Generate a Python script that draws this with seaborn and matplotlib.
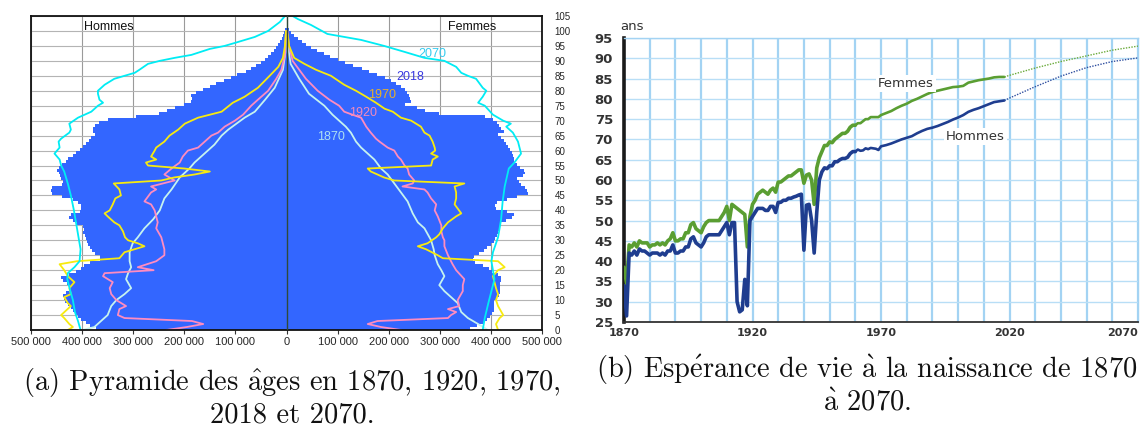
import matplotlib
matplotlib.use("Agg")
import matplotlib.pyplot as plt
import seaborn as sns
import pandas as pd

# ---------- (a) pyramide des ages, effectifs en milliers ----------
ages = list(range(101))
men_2018 = [372, 385, 393, 402, 408, 414, 418, 422, 428, 433,
            436, 438, 431, 423, 424, 430, 438, 441, 425, 412,
            403, 396, 385, 365, 364, 374, 381, 385, 388, 390,
            392, 395, 398, 396, 398, 410, 418, 425, 422, 405,
            402, 402, 408, 418, 440, 458, 461, 458, 440, 438,
            441, 443, 446, 449, 446, 440, 432, 427, 418, 411,
            404, 399, 393, 387, 383, 374, 378, 378, 374, 367,
            350, 295, 250, 234, 218, 201, 187, 185, 186, 177,
            163, 149, 137, 122, 109, 96, 80, 70, 60, 50,
            42, 36, 30, 25, 20, 16, 12, 9, 6, 4,
            2]
women_2018 = [360, 372, 386, 392, 398, 402, 406, 407, 407, 407,
              412, 416, 417, 417, 417, 418, 420, 420, 414, 402,
              396, 384, 368, 364, 366, 377, 387, 393, 400, 406,
              409, 412, 414, 415, 417, 420, 430, 441, 446, 432,
              410, 408, 412, 432, 452, 472, 471, 466, 458, 455,
              452, 462, 466, 464, 457, 451, 446, 445, 443, 441,
              438, 433, 429, 426, 420, 413, 425, 419, 416, 412,
              404, 388, 299, 272, 255, 232, 243, 242, 240, 236,
              231, 224, 214, 205, 192, 178, 162, 147, 130, 115,
              100, 86, 73, 60, 48, 38, 30, 22, 15, 9,
              5]

m1870_ages = [0, 1, 3, 5, 8, 10, 12, 14, 17, 19, 21, 23, 26, 29, 31, 34, 37, 40, 44, 47,
              51, 54, 56, 58, 60, 62, 65, 67, 69, 71, 73, 77, 81, 87, 93, 100]
m1870 = [399, 376, 363, 350, 343, 333, 317, 304, 314, 310, 304, 307, 307, 301, 291, 278, 261, 248, 239, 225,
         209, 190, 180, 167, 154, 141, 127, 114, 98, 82, 62, 42, 23, 7, 2, 1]
w1870_ages = [0, 2, 4, 6, 9, 11, 13, 15, 18, 20, 22, 25, 27, 30, 34, 36, 39, 43, 46, 49,
              52, 54, 57, 59, 61, 63, 66, 68, 70, 72, 75, 79, 84, 89, 95, 100]
w1870 = [394, 375, 355, 342, 335, 322, 309, 299, 309, 303, 296, 290, 288, 283, 270, 257, 247, 237, 224, 211,
         198, 185, 172, 159, 146, 136, 126, 116, 103, 90, 74, 44, 25, 8, 3, 1]

m1920_ages = [0, 1, 2, 3, 4, 5, 7, 8, 10, 12, 14, 16, 18, 19, 20, 21, 23, 25, 27, 29,
              31, 34, 36, 38, 40, 42, 43, 46, 47, 48, 50, 52, 54, 56, 58, 60, 61, 63, 65, 66,
              68, 70, 72, 75, 77, 80, 84, 87, 92, 100]
m1920 = [235, 195, 163, 185, 317, 330, 327, 314, 333, 343, 346, 340, 359, 356, 260, 291, 255, 239, 239, 242,
         245, 255, 252, 255, 258, 265, 278, 265, 255, 265, 219, 239, 225, 209, 203, 193, 173, 160, 147, 134,
         121, 101, 85, 69, 56, 36, 20, 10, 3, 1]
w1920_ages = [0, 1, 2, 3, 4, 5, 6, 7, 8, 10, 13, 15, 17, 20, 22, 24, 25, 28, 30, 31,
              33, 35, 38, 40, 42, 44, 46, 47, 48, 49, 50, 52, 54, 55, 57, 58, 60, 61, 63, 64,
              66, 68, 71, 72, 73, 75, 77, 80, 84, 87, 90, 95, 100]
w1920 = [224, 185, 159, 178, 316, 322, 332, 316, 338, 335, 345, 345, 348, 332, 325, 319, 316, 309, 309, 306,
         303, 303, 296, 290, 293, 283, 276, 270, 227, 247, 250, 240, 237, 231, 224, 218, 211, 198, 182, 175,
         165, 156, 146, 129, 113, 103, 84, 61, 38, 25, 12, 5, 2]

m1970_ages = [0, 1, 2, 4, 5, 8, 9, 11, 12, 14, 16, 18, 20, 22, 23, 24, 26, 28, 29, 30,
              31, 33, 35, 36, 38, 39, 40, 42, 44, 45, 47, 49, 50, 51, 52, 53, 54, 55, 56, 57,
              58, 60, 61, 63, 65, 67, 69, 71, 72, 73, 76, 78, 81, 85, 88, 91, 95, 100]
m1970 = [428, 418, 425, 435, 441, 422, 428, 435, 422, 425, 415, 428, 435, 444, 410, 327, 317, 278, 291, 310,
         316, 320, 327, 337, 350, 356, 346, 340, 335, 324, 327, 338, 245, 220, 180, 150, 200, 271, 275, 255,
         265, 258, 255, 239, 229, 212, 199, 173, 150, 127, 105, 82, 56, 33, 16, 7, 3, 1]
w1970_ages = [0, 2, 4, 5, 8, 10, 12, 14, 16, 18, 20, 21, 23, 24, 25, 27, 28, 29, 31, 32,
              34, 36, 38, 39, 42, 44, 46, 48, 49, 50, 51, 53, 54, 55, 57, 58, 59, 60, 61, 63,
              65, 66, 68, 70, 71, 73, 74, 76, 78, 80, 82, 85, 87, 89, 91, 95, 99]
w1970 = [414, 410, 417, 424, 414, 410, 414, 410, 407, 404, 414, 427, 414, 306, 296, 273, 257, 276, 293, 299,
         306, 316, 332, 342, 329, 332, 332, 329, 348, 211, 191, 165, 159, 283, 286, 296, 283, 291, 290, 286,
         280, 270, 263, 244, 224, 208, 192, 175, 156, 136, 113, 87, 58, 35, 15, 5, 2]

m2070_ages = [0, 3, 6, 10, 13, 17, 19, 21, 23, 27, 31, 36, 40, 45, 49, 53, 55, 57, 59, 61,
              63, 64, 66, 67, 69, 71, 72, 73, 75, 76, 77, 79, 80, 82, 84, 85, 86, 87, 89, 90,
              91, 92, 94, 95, 96, 98, 100, 103, 105]
m2070 = [403, 408, 414, 418, 423, 429, 428, 415, 405, 403, 407, 412, 416, 422, 428, 435, 441, 444, 454, 444,
         446, 441, 425, 422, 425, 408, 395, 382, 369, 359, 366, 369, 369, 356, 337, 317, 297, 288, 271, 248,
         219, 186, 150, 121, 101, 62, 36, 13, 3]
w2070_ages = [0, 4, 9, 13, 17, 20, 23, 26, 31, 37, 43, 48, 54, 56, 59, 61, 63, 66, 68, 69,
              70, 72, 75, 76, 78, 80, 81, 84, 85, 86, 88, 90, 91, 93, 95, 97, 98, 99, 102, 104, 105]
w2070 = [384, 388, 395, 401, 407, 404, 401, 404, 414, 420, 423, 427, 435, 446, 459, 456, 453, 443, 430, 439,
         424, 404, 388, 375, 384, 391, 384, 371, 355, 342, 332, 309, 270, 231, 191, 146, 113, 80, 48, 22, 12]

year_labels = ["2070", "2018", "1970", "1920", "1870"]
label_pos = [(285, 92.3), (242, 84.6), (187, 78.6), (150, 72.6), (87, 64.5)]

# ---------- (b) esperance de vie a la naissance ----------
hist_years = list(range(1870, 1970)) + list(range(1970, 2019, 2))
women_le = [38.5, 34.5, 44, 43.5, 44.5, 43.5, 45, 44.5, 44.5, 44.5,
            43.5, 44, 44, 44.5, 44, 44.5, 44, 45, 45.5, 47,
            45, 45, 45.5, 45.5, 47, 47, 49, 49.5, 48, 47.5,
            47, 48.5, 49.5, 50, 50, 50, 50, 50, 51, 52,
            53.5, 50, 54, 53.5, 53, 52.5, 52, 51.5, 43.5, 51,
            54, 55, 56.5, 57, 57.5, 57, 56.5, 57.5, 58, 57,
            59.5, 59.5, 60, 60.5, 61, 61, 61.5, 62, 62.5, 62.5,
            59.2, 61.2, 61.5, 60, 54, 63, 65.5, 67, 68.5, 68.5,
            69.4, 69.2, 70, 70.5, 71, 71.5, 71.5, 72, 73, 73.5,
            73.5, 74, 74, 74.5, 75, 75, 75.5, 75.5, 75.5, 75.5,
            76, 76.5, 77, 77.7, 78.3, 78.8, 79.5, 80, 80.6, 81.2,
            81.7, 82, 82.3, 82.6, 82.9, 83, 83.2, 84, 84.3, 84.6,
            84.8, 85, 85.3, 85.4, 85.4]
men_le = [34, 26.5, 42, 41.5, 42.5, 41.5, 43, 42.5, 42.5, 42,
          41.5, 42, 42, 42, 41.5, 42, 41.5, 42.5, 42.5, 44,
          42, 42, 42.5, 42.5, 43.5, 43.5, 45.5, 46, 44.5, 44,
          43.5, 44.5, 46, 46.5, 46.5, 46.5, 46.5, 46.5, 47.5, 48.5,
          49.5, 46.5, 49.5, 49.5, 30, 27.5, 28, 35.5, 29, 50,
          51, 52, 53, 53, 53, 52.5, 52.5, 53.5, 53.5, 52,
          54.5, 54.5, 55, 55, 55.5, 55.5, 55.8, 56, 56.3, 56.5,
          42.7, 53.8, 54, 50, 42, 52, 60, 62, 63, 62.8,
          63.5, 63.5, 64.5, 64.5, 65, 65.3, 65.3, 65.6, 66.5, 67,
          67, 67.5, 67.2, 67.3, 67.8, 67.6, 67.9, 67.8, 67.7, 67.4,
          68.3, 68.6, 69, 69.5, 70, 70.4, 70.8, 71.5, 72.1, 72.6,
          72.9, 73.3, 73.8, 74.3, 74.9, 75.4, 76, 76.8, 77.3, 77.7,
          78.2, 78.7, 79.2, 79.4, 79.6]
proj_years = [2018, 2020, 2030, 2040, 2050, 2060, 2070]
women_proj = [85.4, 85.8, 87.6, 89.2, 90.6, 92.0, 93.0]
men_proj = [79.6, 80.2, 83.0, 85.6, 87.7, 89.2, 90.1]

BLUE = "#3366ff"
line_colors = {"1870": "#c6f3ef", "1920": "#ff8cc0", "1970": "#f7ea0f", "2070": "#00ecf4"}
label_colors = ["#33ccf0", "#3a3ae0", "#e6b02a", "#f28abb", "#aee0f2"]
GREEN = "#5a9e32"
NAVY = "#1f3d8f"
GRID_V = "#a3d3f3"
GRID_H = "#b8def6"


def pyramid_lines():
    series = [("1870", m1870_ages, m1870, w1870_ages, w1870),
              ("1920", m1920_ages, m1920, w1920_ages, w1920),
              ("1970", m1970_ages, m1970, w1970_ages, w1970),
              ("2070", m2070_ages, m2070, w2070_ages, w2070)]
    rows = []
    for year, ma, mv, wa, wv in series:
        assert len(ma) == len(mv) and len(wa) == len(wv), year
        rows += [(year, "H", a, -v) for a, v in zip(ma, mv)]
        rows += [(year, "F", a, v) for a, v in zip(wa, wv)]
    return pd.DataFrame(rows, columns=["year", "sexe", "age", "pop"])


def thousands(v):
    return "0" if v == 0 else f"{abs(v) * 1000:,}".replace(",", " ")


sns.set_theme(style="white")
plt.rcParams["font.family"] = ["Liberation Sans", "DejaVu Sans"]
plt.rcParams["mathtext.fontset"] = "cm"

fig = plt.figure(figsize=(11.48, 4.30), dpi=100)
ax1 = fig.add_axes([31 / 1148, 100 / 430, 511 / 1148, 314 / 430])
ax2 = fig.add_axes([624 / 1148, 108 / 430, 514 / 1148, 284 / 430])

# ----- pyramid -----
ax1.barh(ages, [-v for v in men_2018], height=1, align="edge", color=BLUE, linewidth=0, zorder=1)
ax1.barh(ages, women_2018, height=1, align="edge", color=BLUE, linewidth=0, zorder=1)
sns.lineplot(data=pyramid_lines(), x="pop", y="age", hue="year", units="sexe", estimator=None,
             orient="y", palette=line_colors, linewidth=1.3, legend=False, ax=ax1, zorder=2)
ax1.axvline(0, color="#2f4a3a", lw=1.0, zorder=3)

ax1.set_xlim(-500, 500)
ax1.set_ylim(0, 105)
xt = list(range(-500, 501, 100))
ax1.set_xticks(xt)
ax1.set_xticklabels([thousands(v) for v in xt])
ax1.set_yticks(range(0, 106, 5))
ax1.yaxis.tick_right()
ax1.set_axisbelow(True)
ax1.grid(axis="x", color="#9a9a9a", lw=0.8)
ax1.grid(axis="y", color="#b4b4b4", lw=0.8)
ax1.tick_params(axis="x", bottom=True, length=3, width=0.8, color="#333333", labelsize=8, pad=2)
ax1.tick_params(axis="y", left=False, right=False, length=0, labelsize=7, pad=9)
ax1.set_xlabel("")
ax1.set_ylabel("")
for s in ax1.spines.values():
    s.set_color("#111111")
    s.set_linewidth(1.3)

ax1.text(-347, 101.3, "Hommes", ha="center", va="center", fontsize=9, color="#111111")
ax1.text(364, 101.3, "Femmes", ha="center", va="center", fontsize=9, color="#111111")
for lab, (x, y), c in zip(year_labels, label_pos, label_colors):
    ax1.text(x, y, lab, ha="center", va="center", fontsize=9, color=c, zorder=4)

# ----- esperance de vie -----
hist = pd.DataFrame({"annee": hist_years, "Femmes": women_le, "Hommes": men_le})
early = hist[hist["annee"] <= 1960]
late = hist[hist["annee"] >= 1960]
for part, lw in [(early, 2.6), (late, 1.9)]:
    sns.lineplot(data=part, x="annee", y="Femmes", color=GREEN, lw=lw, ax=ax2,
                 solid_capstyle="round", zorder=3)
    sns.lineplot(data=part, x="annee", y="Hommes", color=NAVY, lw=lw, ax=ax2,
                 solid_capstyle="round", zorder=3)
sns.lineplot(x=proj_years, y=women_proj, color="#6aaa3a", lw=1.0, linestyle=(0, (1, 1)), ax=ax2, zorder=3)
sns.lineplot(x=proj_years, y=men_proj, color="#2f4fa0", lw=1.0, linestyle=(0, (1, 1)), ax=ax2, zorder=3)

ax2.set_xlim(1870, 2070)
ax2.set_ylim(25, 95)
xt2 = list(range(1870, 2071, 10))
ax2.set_xticks(xt2)
ax2.set_xticklabels([str(y) if (y - 1870) % 50 == 0 else "" for y in xt2])
ax2.set_yticks(range(25, 96, 5))
ax2.set_axisbelow(True)
ax2.grid(axis="x", color=GRID_V, lw=1.6)
ax2.grid(axis="y", color=GRID_H, lw=1.0)
ax2.tick_params(axis="both", length=0)
ax2.tick_params(axis="x", pad=4)
ax2.tick_params(axis="y", pad=8)
for t in ax2.get_xticklabels():
    t.set_fontfamily("DejaVu Sans")
    t.set_fontweight("bold")
    t.set_fontsize(8)
    t.set_color("#333333")
ax2.get_xticklabels()[-1].set_horizontalalignment("right")
for t in ax2.get_yticklabels():
    t.set_fontfamily("DejaVu Sans")
    t.set_fontweight("bold")
    t.set_fontsize(9.5)
    t.set_color("#333333")
ax2.set_xlabel("")
ax2.set_ylabel("")
ax2.spines["left"].set_color("#1a1a1a")
ax2.spines["left"].set_linewidth(2.6)
ax2.spines["bottom"].set_color("#333333")
ax2.spines["bottom"].set_linewidth(1.3)
for side in ["top", "right"]:
    ax2.spines[side].set_color(GRID_V)
    ax2.spines[side].set_linewidth(1.0)

ax2.text(-0.008, 1.018, "ans", transform=ax2.transAxes, ha="left", va="bottom",
         fontsize=9.5, fontfamily="DejaVu Sans", color="#333333")
ax2.text(1979.7, 83.7, "Femmes", ha="center", va="center", fontsize=9.5, fontfamily="DejaVu Sans",
         color="#333333", bbox=dict(facecolor="white", edgecolor="none", pad=1.5), zorder=5)
ax2.text(2006.6, 70.8, "Hommes", ha="center", va="center", fontsize=9.5, fontfamily="DejaVu Sans",
         color="#333333", bbox=dict(facecolor="white", edgecolor="none", pad=1.5), zorder=5)

# ----- legendes des sous-figures -----
cap = dict(ha="center", va="center", fontsize=20.5, fontfamily="cmr10", color="#111111")
fig.text(292 / 1148, 1 - 383 / 430, r"(a) Pyramide des $\hat{\mathrm{a}}$ges en 1870, 1920, 1970,", **cap)
fig.text(292 / 1148, 1 - 415 / 430, "2018 et 2070.", **cap)
fig.text(867 / 1148, 1 - 370 / 430, r"(b) Esp$\acute{\mathrm{e}}$rance de vie $\grave{\mathrm{a}}$ la naissance de 1870", **cap)
fig.text(867 / 1148, 1 - 403 / 430, r"$\grave{\mathrm{a}}$ 2070.", **cap)

fig.savefig("out.png", dpi=100)
